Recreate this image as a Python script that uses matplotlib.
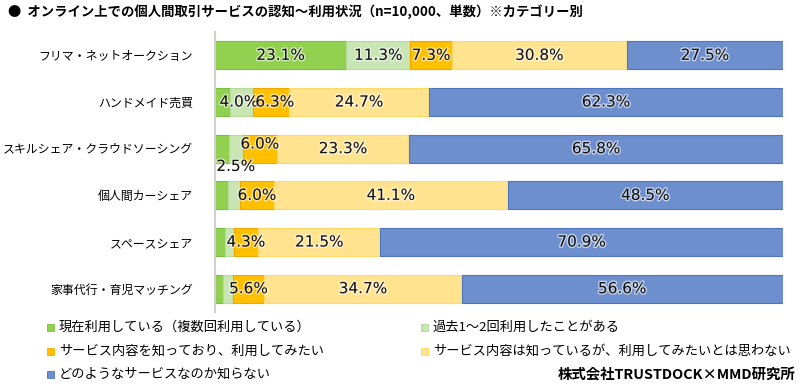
import matplotlib
matplotlib.use("Agg")
import matplotlib.pyplot as plt
import matplotlib.patheffects as pe
from matplotlib.patches import Rectangle
import numpy as np

plt.rcParams['font.family'] = ['Noto Sans CJK JP', 'DejaVu Sans']

# Data (percent)
categories = ['フリマ・ネットオークション', 'ハンドメイド売買', 'スキルシェア・クラウドソーシング',
              '個人間カーシェア', 'スペースシェア', '家事代行・育児マッチング']
series = ['現在利用している（複数回利用している）', '過去1～2回利用したことがある',
          'サービス内容を知っており、利用してみたい', 'サービス内容は知っているが、利用してみたいとは思わない',
          'どのようなサービスなのか知らない']
using_now = [23.1, 2.7, 2.4, 2.3, 1.8, 1.4]
used_before = [11.3, 4.0, 2.5, 2.1, 1.5, 1.7]
want_to_use = [7.3, 6.3, 6.0, 6.0, 4.3, 5.6]
know_no_use = [30.8, 24.7, 23.3, 41.1, 21.5, 34.7]
dont_know = [27.5, 62.3, 65.8, 48.5, 70.9, 56.6]
values = [using_now, used_before, want_to_use, know_no_use, dont_know]
# which segments carry a value label in the original
show_label = [
    [True, False, False, False, False, False],
    [True, True, True, False, False, False],
    [True, True, True, True, True, True],
    [True, True, True, True, True, True],
    [True, True, True, True, True, True],
]

colors = ['#92D050', '#C9E5B3', '#FFC000', '#FFE38F', '#6E8FCE']
edges = ['#7CC043', '#B5DA9A', '#F0A800', '#FFD966', '#4F74C0']

fig = plt.figure(figsize=(8, 3.92), dpi=100)
ax = fig.add_axes([215 / 800, 80 / 392, 568 / 800, 280 / 392])

y = np.arange(len(categories))
left = np.zeros(len(categories))
for i, vals in enumerate(values):
    vals = np.array(vals)
    ax.barh(y, vals, left=left, height=0.6, color=colors[i],
            edgecolor=edges[i], linewidth=0.8)
    for j, v in enumerate(vals):
        if not show_label[i][j]:
            continue
        cx = left[j] + v / 2
        cy = y[j]
        if i == 1 and j == 2:
            cy = y[j] + 0.38   # label dropped below the bar
        elif i == 2 and j == 2:
            cy = y[j] - 0.1
        # squeeze apart the two crowded labels on the second row
        if j == 1 and i == 1:
            cx -= 0.5
        elif j == 1 and i == 2:
            cx += 0.7
        ax.text(cx, cy, f'{v:.1f}%', ha='center', va='center', fontsize=11,
                family='DejaVu Sans', color='#111111',
                path_effects=[pe.withStroke(linewidth=2, foreground='white', alpha=0.6)])
    left += vals

ax.set_xlim(0, 100)
ax.set_ylim(5.5, -0.5)
ax.set_yticks(y)
ax.set_yticklabels(categories, fontsize=8.6)
ax.tick_params(axis='y', length=0, pad=16)
ax.set_xticks([])
for s in ['top', 'right', 'bottom']:
    ax.spines[s].set_visible(False)
ax.spines['left'].set_color('#D0D0D0')
ax.spines['left'].set_linewidth(1.5)

# title
fig.text(8 / 800, 1 - 12 / 392,
         '●  オンライン上での個人間取引サービスの認知～利用状況（n=10,000、単数）※カテゴリー別',
         fontsize=9.6, fontweight='bold', ha='left', va='center')

# legend (row-major, two columns)
leg_x = [47, 421]
leg_y = [327, 351, 374]
for k, name in enumerate(series):
    px = leg_x[k % 2]
    py = leg_y[k // 2]
    fig.patches.append(Rectangle((px / 800, 1 - (py + 3.5) / 392), 7 / 800, 7 / 392,
                                 transform=fig.transFigure, facecolor=colors[k],
                                 edgecolor=edges[k], linewidth=0.6))
    fig.text((px + 12) / 800, 1 - py / 392, name, fontsize=9.5, ha='left', va='center')

fig.text(795 / 800, 1 - 375 / 392, '株式会社TRUSTDOCK×MMD研究所', fontsize=10.4,
         fontweight='bold', ha='right', va='center')

fig.savefig('out.png', dpi=100)
